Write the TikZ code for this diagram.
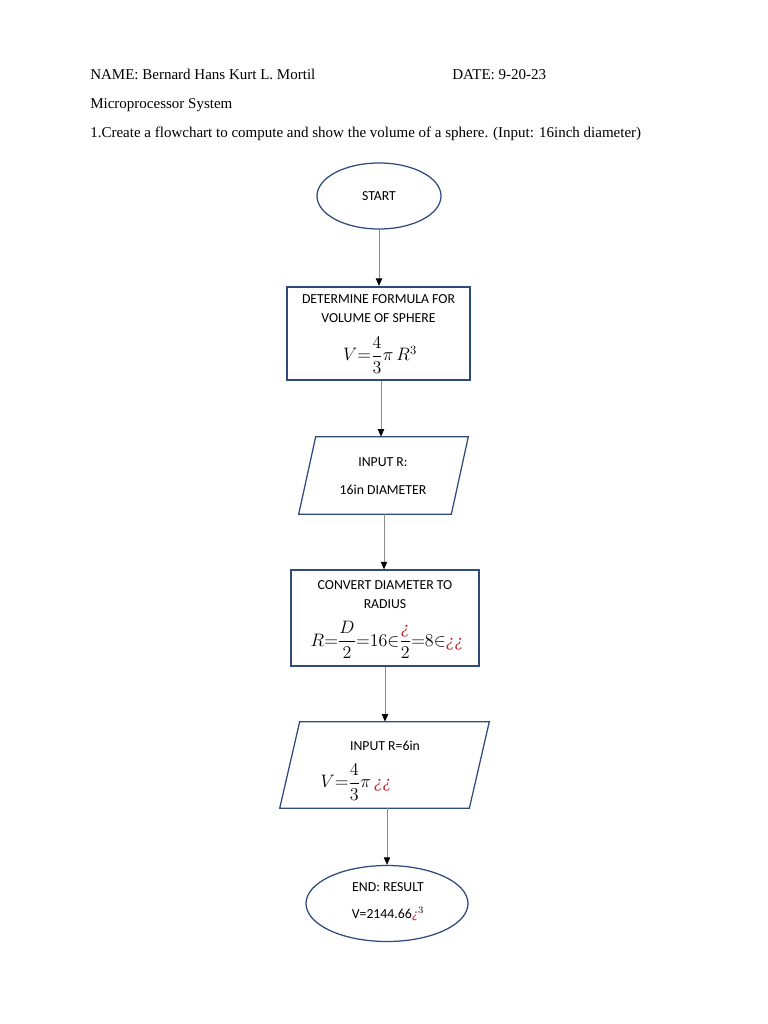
\documentclass[tikz,border=0pt]{standalone}
\usepackage{amsmath}
\usepackage{fontspec}
\setmainfont{Liberation Serif}
\newfontfamily\calibri{Carlito}
\usetikzlibrary{arrows.meta,positioning,shapes.geometric}
\newlength\pxu
\setlength\pxu{0.2811mm}
\definecolor{shapeblue}{HTML}{2F4B7C}
\definecolor{linegray}{HTML}{8C8C8C}
\definecolor{hookred}{HTML}{B8262B}
\newcommand\hook{\textcolor{hookred}{\textit{¿}}}
\tikzset{
    >={Triangle[length=6pt,width=5pt,color=black]},
    every picture/.style={line width=0.5pt},
    terminal/.style={ellipse,draw=shapeblue,line width=1pt,inner sep=0pt},
    procbox/.style={rectangle,draw=shapeblue,line width=1pt,inner sep=0pt},
    iobox/.style={rectangle,inner sep=0pt},
    ioline/.style={draw=shapeblue,line width=1pt,line join=miter},
    flowtext/.style={font=\calibri\fontsize{11}{15}\selectfont,inner sep=0pt,align=center},
    mathtext/.style={font=\fontsize{14}{16}\selectfont,inner sep=0pt},
    headtext/.style={font=\fontsize{12}{14}\selectfont,anchor=base west,inner sep=0pt},
    flowarrow/.style={->,draw=linegray,line width=0.8pt}
}
\begin{document}
\begin{tikzpicture}[x=\pxu,y=-\pxu]
    \useasboundingbox[fill=white] (0,0) rectangle (768,1024);
    % header
    \node[headtext] (name) at (90,80) {NAME: Bernard Hans Kurt L. Mortil};
    \node[headtext] (date) at (452,80) {DATE: 9-20-23};
    \node[headtext] (course) at (90,109) {Microprocessor System};
    \node[headtext] (task) at (90,138) {1.Create a flowchart to compute and show the volume of a sphere. (Input: 16inch diameter)};
    % flowchart
    \node[terminal,flowtext,minimum width=124\pxu,minimum height=66\pxu] (start) at (379,196) {START};
    \node[procbox,line width=1.6pt,minimum width=183\pxu,minimum height=93\pxu] (formula) at (378.5,333.5) {};
    \node[flowtext] (formulatitle) at (378.5,308.5) {DETERMINE FORMULA FOR\\VOLUME OF SPHERE};
    \node[mathtext] (formulaeq) at (380,355) {$V{=}\dfrac{4}{3}\pi\,R^{3}$};
    \node[iobox,minimum width=152\pxu,minimum height=77\pxu] (inputr) at (383.5,475.5) {};
    \draw[ioline] ([xshift=8.5\pxu]inputr.north west) -- ([xshift=8.5\pxu]inputr.north east)
        -- ([xshift=-8.5\pxu]inputr.south east) -- ([xshift=-8.5\pxu]inputr.south west) -- cycle;
    \node[flowtext] (inputrtext) at (383,476) {INPUT R:\\[7.4pt]16in DIAMETER};
    \node[procbox,minimum width=188\pxu,minimum height=96\pxu] (convert) at (385,618) {};
    \node[flowtext] (converttitle) at (385,594.5) {CONVERT DIAMETER TO\\RADIUS};
    \node[mathtext] (converteq) at (387,640) {$R{=}\dfrac{D}{2}{=}16{\in}\dfrac{\hook}{2}{=}8{\in}\hook\hook$};
    \node[iobox,minimum width=189\pxu,minimum height=86\pxu] (inputsix) at (384.5,765) {};
    \draw[ioline] ([xshift=10\pxu]inputsix.north west) -- ([xshift=10\pxu]inputsix.north east)
        -- ([xshift=-10\pxu]inputsix.south east) -- ([xshift=-10\pxu]inputsix.south west) -- cycle;
    \node[flowtext] (inputsixtitle) at (385,746) {INPUT R=6in};
    \node[mathtext] (inputsixeq) at (356,782) {$V{=}\dfrac{4}{3}\pi\,\hook\hook$};
    \node[terminal,minimum width=162\pxu,minimum height=76\pxu] (result) at (387,903.5) {};
    \node[flowtext] (resulttext) at (388,902) {END: RESULT\\[6.6pt]V=2144.66\hook$^{3}$};
    % connectors
    \draw[flowarrow] (start.south) -- (start.south |- formula.north);
    \draw[flowarrow] ([xshift=2.5\pxu]formula.south) -- ([xshift=2.5\pxu]formula.south |- inputr.north);
    \draw[flowarrow] ([xshift=0.5\pxu]inputr.south) -- ([xshift=0.5\pxu]inputr.south |- convert.north);
    \draw[flowarrow] (convert.south) -- (convert.south |- inputsix.north);
    \draw[flowarrow] ([xshift=2.5\pxu]inputsix.south) -- ([xshift=2.5\pxu]inputsix.south |- result.north);
\end{tikzpicture}
\end{document}
